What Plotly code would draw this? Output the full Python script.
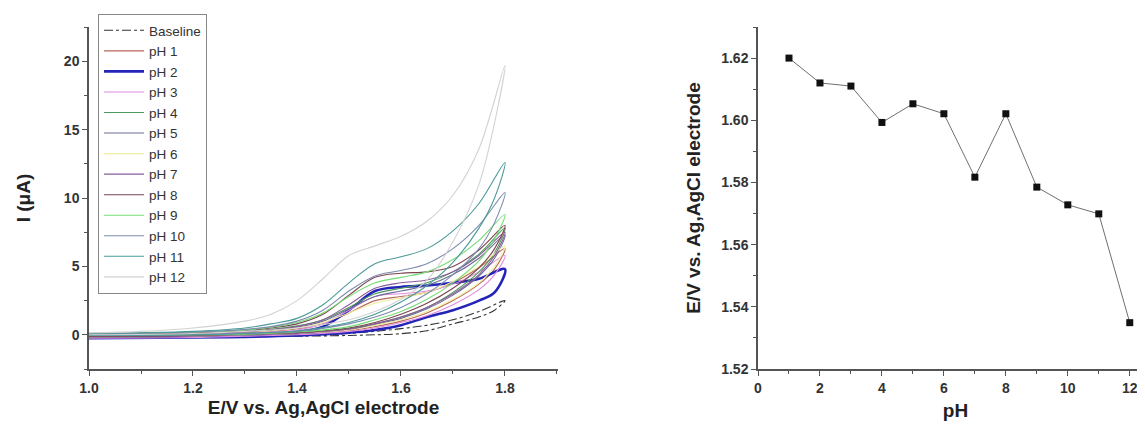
import plotly.graph_objects as go

# ---------------- data ----------------
E_FWD = [1.0, 1.1, 1.2, 1.3, 1.35, 1.4, 1.45, 1.5, 1.55, 1.6, 1.65, 1.7, 1.75, 1.8]
E_REV = [1.78, 1.75, 1.7, 1.65, 1.6, 1.55, 1.5, 1.4, 1.3, 1.2, 1.0]

SERIES = ["Baseline", "pH 1", "pH 2", "pH 3", "pH 4", "pH 5", "pH 6",
          "pH 7", "pH 8", "pH 9", "pH 10", "pH 11", "pH 12"]

I_FWD = {
    "Baseline": [-0.1, -0.1, -0.1, -0.1, -0.08, -0.05, 0.0, 0.1, 0.25, 0.45, 0.7, 1.1, 1.7, 2.5],
    "pH 1":  [0.05, 0.05, 0.1, 0.15, 0.25, 0.45, 0.8, 1.6, 2.5, 2.8, 3.1, 3.8, 4.9, 6.3],
    "pH 2":  [-0.05, -0.05, 0.0, 0.05, 0.1, 0.2, 0.6, 1.8, 3.2, 3.5, 3.6, 3.8, 4.1, 4.8],
    "pH 3":  [0.0, 0.0, 0.05, 0.1, 0.2, 0.35, 0.8, 1.8, 2.8, 3.0, 3.2, 3.7, 4.6, 5.8],
    "pH 4":  [0.05, 0.06, 0.1, 0.25, 0.4, 0.65, 1.1, 2.0, 3.0, 3.4, 3.8, 4.6, 5.9, 7.8],
    "pH 5":  [0.05, 0.06, 0.1, 0.2, 0.35, 0.55, 1.0, 1.9, 2.8, 3.2, 3.6, 4.4, 5.6, 7.3],
    "pH 6":  [0.05, 0.05, 0.1, 0.2, 0.3, 0.5, 0.9, 1.6, 2.3, 2.7, 3.1, 3.9, 5.0, 6.5],
    "pH 7":  [0.05, 0.05, 0.1, 0.2, 0.35, 0.6, 1.1, 2.2, 3.4, 3.8, 4.0, 4.6, 5.8, 7.5],
    "pH 8":  [0.1, 0.1, 0.15, 0.3, 0.5, 0.8, 1.5, 2.9, 4.2, 4.5, 4.6, 5.0, 6.2, 8.0],
    "pH 9":  [0.1, 0.12, 0.2, 0.35, 0.55, 0.9, 1.6, 2.8, 3.8, 4.2, 4.6, 5.5, 6.9, 8.8],
    "pH 10": [0.1, 0.12, 0.2, 0.4, 0.6, 1.0, 1.8, 3.2, 4.3, 4.7, 5.2, 6.3, 8.0, 10.4],
    "pH 11": [0.1, 0.15, 0.25, 0.5, 0.8, 1.2, 2.2, 3.8, 5.2, 5.7, 6.3, 7.6, 9.6, 12.6],
    "pH 12": [0.15, 0.25, 0.5, 1.0, 1.5, 2.5, 4.1, 5.8, 6.5, 7.2, 8.3, 10.2, 13.6, 19.7],
}
I_REV = {
    "Baseline": [1.8, 1.3, 0.8, 0.3, 0.08, 0.0, -0.05, -0.1, -0.12, -0.12, -0.12],
    "pH 1":  [4.8, 3.7, 2.5, 1.6, 1.0, 0.6, 0.3, 0.05, -0.05, -0.1, -0.15],
    "pH 2":  [3.1, 2.5, 1.8, 1.3, 0.7, 0.35, 0.15, -0.05, -0.15, -0.2, -0.25],
    "pH 3":  [4.4, 3.3, 2.2, 1.4, 0.9, 0.5, 0.25, 0.0, -0.1, -0.2, -0.25],
    "pH 4":  [6.0, 4.6, 3.1, 2.0, 1.3, 0.8, 0.45, 0.1, 0.0, -0.1, -0.15],
    "pH 5":  [5.6, 4.3, 2.9, 1.9, 1.2, 0.75, 0.4, 0.1, 0.0, -0.1, -0.15],
    "pH 6":  [5.0, 3.8, 2.6, 1.7, 1.1, 0.7, 0.35, 0.1, 0.0, -0.1, -0.15],
    "pH 7":  [5.8, 4.4, 3.0, 2.0, 1.3, 0.8, 0.4, 0.1, 0.0, -0.1, -0.15],
    "pH 8":  [6.3, 4.9, 3.4, 2.3, 1.5, 0.9, 0.5, 0.15, 0.05, -0.05, -0.1],
    "pH 9":  [7.0, 5.4, 3.8, 2.6, 1.7, 1.1, 0.6, 0.2, 0.05, 0.0, -0.05],
    "pH 10": [8.2, 6.3, 4.4, 3.0, 2.0, 1.3, 0.8, 0.25, 0.1, 0.0, -0.05],
    "pH 11": [10.0, 7.8, 5.3, 3.6, 2.4, 1.5, 0.9, 0.3, 0.1, 0.0, -0.05],
    "pH 12": [15.5, 11.0, 6.8, 4.0, 2.6, 1.7, 1.1, 0.5, 0.25, 0.1, 0.0],
}

PH = [1, 2, 3, 4, 5, 6, 7, 8, 9, 10, 11, 12]
E_PEAK = [1.620, 1.612, 1.611, 1.5993, 1.6053, 1.6021, 1.5817, 1.6021,
          1.5785, 1.5728, 1.5699, 1.5349]

# ---------------- styles ----------------
COLORS = {
    "Baseline": "#333333", "pH 1": "#b8685a", "pH 2": "#2424b8", "pH 3": "#e08ae0",
    "pH 4": "#4e9a5e", "pH 5": "#6c6c96", "pH 6": "#eeee9e", "pH 7": "#8a5c9a",
    "pH 8": "#7a4450", "pH 9": "#74dc74", "pH 10": "#7c8cae", "pH 11": "#4a9a98",
    "pH 12": "#d2d2d2",
}
W = 1145
H = 424

def px_x(p):
    return p / W

def px_y(p):
    return 1 - p / H

fig = go.Figure()

for name in SERIES:
    xs = E_FWD + E_REV
    ys = I_FWD[name] + I_REV[name]
    fig.add_trace(go.Scatter(
        x=xs, y=ys, mode="lines", name=name, line_shape="spline",
        line=dict(color=COLORS[name], width=2.6 if name == "pH 2" else 1.1,
                  dash="dashdot" if name == "Baseline" else "solid"),
        xaxis="x", yaxis="y", showlegend=True,
    ))

fig.add_trace(go.Scatter(
    x=PH, y=E_PEAK, mode="lines+markers", showlegend=False,
    line=dict(color="#707070", width=1),
    marker=dict(symbol="square", size=7, color="#111111"),
    xaxis="x2", yaxis="y2",
))

FONT = "Liberation Sans, Arial, sans-serif"
tickfont = dict(family=FONT, size=14, color="#333333", weight="bold")
titlefont = dict(family=FONT, size=19, color="#222222", weight="bold")
axis_common = dict(showline=True, linecolor="#555555", linewidth=1.5, showgrid=False,
                   zeroline=False, ticks="outside", ticklen=5, tickwidth=1.2,
                   tickcolor="#555555", tickfont=tickfont, mirror=False)

fig.update_layout(
    width=W, height=H, margin=dict(l=0, r=0, t=0, b=0),
    paper_bgcolor="white", plot_bgcolor="white",
    xaxis=dict(domain=[px_x(81), px_x(550)], range=[1.0, 1.902], tickvals=[1.0, 1.2, 1.4, 1.6, 1.8],
               ticktext=["1.0", "1.2", "1.4", "1.6", "1.8"],
               minor=dict(dtick=0.1, tick0=1.0, ticks="outside", ticklen=3, tickcolor="#555555"),
               title=dict(text="E/V vs. Ag,AgCl electrode", font=titlefont, standoff=6),
               anchor="y", automargin=False, **axis_common),
    yaxis=dict(domain=[px_y(361), px_y(19)], range=[-2.5, 22.5], tickvals=[0, 5, 10, 15, 20],
               minor=dict(dtick=2.5, tick0=0, ticks="outside", ticklen=3, tickcolor="#555555"),
               title=dict(text="I (μA)", font=titlefont, standoff=28),
               anchor="x", automargin=False, **axis_common),
    xaxis2=dict(domain=[px_x(750), 1.0], range=[0, 12.75], tickvals=[0, 2, 4, 6, 8, 10, 12],
                minor=dict(dtick=1, tick0=0, ticks="outside", ticklen=3, tickcolor="#555555"),
                title=dict(text="pH", font=titlefont, standoff=9),
                anchor="y2", automargin=False, **axis_common),
    yaxis2=dict(domain=[px_y(361), px_y(19)], range=[1.52, 1.63],
                tickvals=[1.52, 1.54, 1.56, 1.58, 1.60, 1.62],
                ticktext=["1.52", "1.54", "1.56", "1.58", "1.60", "1.62"],
                minor=dict(dtick=0.01, tick0=1.52, ticks="outside", ticklen=3, tickcolor="#555555"),
                title=dict(text="E/V vs. Ag,AgCl electrode", font=titlefont, standoff=16),
                anchor="x2", automargin=False, **axis_common),
    legend=dict(x=px_x(90), y=px_y(6), xanchor="left", yanchor="top",
                bgcolor="white", bordercolor="#888888", borderwidth=1,
                font=dict(family=FONT, size=13.5, color="#333333"),
                tracegroupgap=0, itemwidth=40),
)

fig.write_html("out.html")
